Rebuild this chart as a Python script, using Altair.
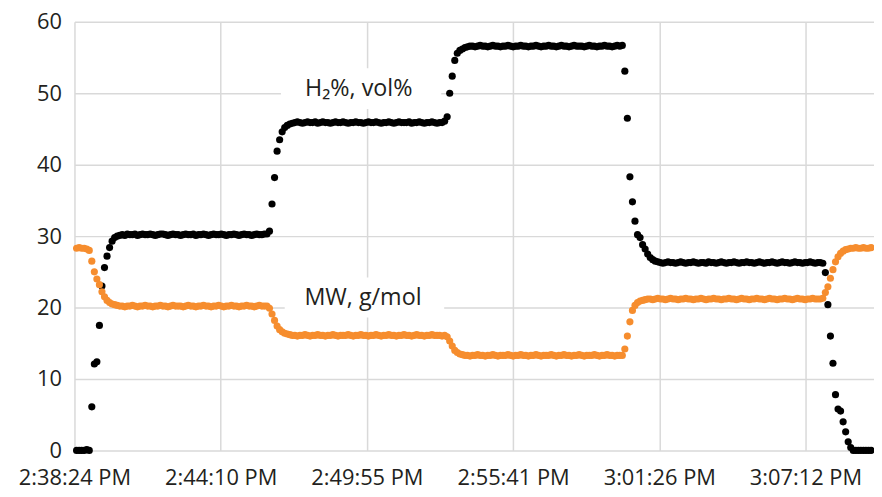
import altair as alt
import pandas as pd

# sampling grid: seconds after 2:38:24 PM
T0 = 5
STEP = 6

h2_vol = [
    0, 0, 0, 0, 0.1, 0, 6.1, 12.1, 12.4, 17.5,
    23.0, 25.6, 27.2, 28.4, 29.3, 29.8, 30.0, 30.1, 30.2, 30.1,
    30.3, 30.2, 30.2, 30.3, 30.1, 30.2, 30.3, 30.2, 30.2, 30.3,
    30.2, 30.1, 30.2, 30.3, 30.3, 30.2, 30.1, 30.2, 30.3, 30.2,
    30.2, 30.1, 30.2, 30.3, 30.2, 30.2, 30.3, 30.1, 30.2, 30.2,
    30.3, 30.2, 30.1, 30.2, 30.3, 30.2, 30.2, 30.3, 30.2, 30.1,
    30.2, 30.2, 30.3, 30.2, 30.1, 30.2, 30.3, 30.2, 30.2, 30.1,
    30.2, 30.3, 30.2, 30.2, 30.3, 30.3, 30.7, 34.5, 38.2, 41.9,
    43.5, 44.6, 45.2, 45.5, 45.7, 45.8, 45.9, 46.0, 45.9, 45.8,
    45.9, 46.0, 45.9, 45.9, 46.0, 45.8, 45.9, 46.0, 45.9, 45.9,
    45.8, 45.9, 46.0, 45.9, 45.9, 46.0, 45.9, 45.8, 45.9, 45.9,
    46.0, 45.9, 45.9, 45.8, 45.9, 46.0, 45.9, 45.9, 46.0, 45.9,
    45.8, 45.9, 45.9, 46.0, 45.9, 45.8, 45.9, 46.0, 45.9, 45.9,
    45.9, 46.0, 45.8, 45.9, 45.9, 46.0, 45.9, 45.8, 45.9, 45.9,
    46.0, 45.9, 45.8, 45.9, 45.9, 46.1, 46.7, 50.0, 52.4, 54.6,
    55.6, 56.0, 56.2, 56.4, 56.5, 56.6, 56.6, 56.5, 56.6, 56.7,
    56.6, 56.6, 56.5, 56.6, 56.7, 56.6, 56.6, 56.5, 56.6, 56.6,
    56.7, 56.6, 56.5, 56.6, 56.6, 56.7, 56.6, 56.6, 56.5, 56.6,
    56.6, 56.7, 56.6, 56.5, 56.6, 56.6, 56.7, 56.6, 56.6, 56.5,
    56.6, 56.7, 56.6, 56.6, 56.5, 56.6, 56.7, 56.6, 56.6, 56.6,
    56.5, 56.6, 56.7, 56.6, 56.6, 56.5, 56.6, 56.6, 56.7, 56.6,
    56.6, 56.5, 56.6, 56.7, 56.6, 56.7, 53.1, 46.5, 38.3, 34.8,
    32.1, 30.2, 29.8, 28.8, 28.2, 27.5, 27.0, 26.7, 26.5, 26.4,
    26.3, 26.2, 26.3, 26.4, 26.3, 26.3, 26.2, 26.3, 26.4, 26.3,
    26.2, 26.3, 26.3, 26.4, 26.3, 26.2, 26.3, 26.3, 26.2, 26.4,
    26.3, 26.3, 26.2, 26.3, 26.4, 26.3, 26.2, 26.3, 26.3, 26.4,
    26.3, 26.2, 26.3, 26.3, 26.4, 26.3, 26.3, 26.2, 26.3, 26.4,
    26.3, 26.2, 26.3, 26.3, 26.4, 26.3, 26.2, 26.3, 26.4, 26.3,
    26.3, 26.2, 26.3, 26.4, 26.3, 26.3, 26.2, 26.3, 26.3, 26.4,
    26.3, 26.2, 26.3, 26.3, 26.2, 24.9, 20.4, 16.0, 12.2, 7.8,
    5.8, 5.5, 4.0, 2.6, 1.2, 0.4, 0, 0, 0, 0,
    0, 0, 0, 0,
]

mw_gmol = [
    28.3, 28.4, 28.3, 28.3, 28.2, 28.0, 26.5, 25.0, 24.0, 23.2,
    22.2, 21.5, 21.0, 20.7, 20.5, 20.4, 20.3, 20.2, 20.2, 20.1,
    20.2, 20.2, 20.3, 20.2, 20.1, 20.2, 20.2, 20.3, 20.2, 20.2,
    20.1, 20.2, 20.2, 20.3, 20.2, 20.2, 20.1, 20.2, 20.3, 20.2,
    20.2, 20.2, 20.1, 20.2, 20.3, 20.2, 20.2, 20.1, 20.2, 20.2,
    20.3, 20.2, 20.2, 20.1, 20.2, 20.2, 20.3, 20.2, 20.1, 20.2,
    20.2, 20.3, 20.2, 20.2, 20.1, 20.2, 20.2, 20.3, 20.2, 20.2,
    20.1, 20.2, 20.3, 20.2, 20.2, 20.2, 19.9, 19.1, 18.2, 17.4,
    16.9, 16.6, 16.4, 16.3, 16.2, 16.1, 16.1, 16.0, 16.1, 16.1,
    16.2, 16.1, 16.0, 16.1, 16.1, 16.2, 16.1, 16.1, 16.0, 16.1,
    16.1, 16.2, 16.1, 16.0, 16.1, 16.1, 16.1, 16.2, 16.1, 16.0,
    16.1, 16.1, 16.2, 16.1, 16.1, 16.0, 16.1, 16.1, 16.2, 16.1,
    16.0, 16.1, 16.1, 16.2, 16.1, 16.1, 16.0, 16.1, 16.1, 16.2,
    16.1, 16.1, 16.0, 16.1, 16.2, 16.1, 16.1, 16.0, 16.1, 16.1,
    16.2, 16.1, 16.1, 16.1, 16.0, 16.1, 15.9, 15.3, 14.6, 14.0,
    13.7, 13.5, 13.4, 13.3, 13.3, 13.2, 13.3, 13.3, 13.4, 13.3,
    13.3, 13.2, 13.3, 13.3, 13.4, 13.3, 13.2, 13.3, 13.3, 13.3,
    13.4, 13.3, 13.2, 13.3, 13.3, 13.4, 13.3, 13.3, 13.2, 13.3,
    13.3, 13.4, 13.3, 13.2, 13.3, 13.3, 13.3, 13.4, 13.3, 13.2,
    13.3, 13.3, 13.4, 13.3, 13.3, 13.2, 13.3, 13.3, 13.4, 13.3,
    13.2, 13.3, 13.3, 13.3, 13.4, 13.3, 13.2, 13.3, 13.3, 13.4,
    13.3, 13.3, 13.2, 13.3, 13.3, 13.3, 14.2, 16.0, 18.0, 19.6,
    20.3, 20.7, 20.9, 21.0, 21.1, 21.2, 21.2, 21.1, 21.2, 21.3,
    21.2, 21.2, 21.1, 21.2, 21.3, 21.2, 21.2, 21.1, 21.2, 21.2,
    21.3, 21.2, 21.2, 21.1, 21.2, 21.2, 21.3, 21.2, 21.1, 21.2,
    21.2, 21.3, 21.2, 21.2, 21.1, 21.2, 21.2, 21.3, 21.2, 21.2,
    21.1, 21.2, 21.3, 21.2, 21.2, 21.1, 21.2, 21.2, 21.3, 21.2,
    21.2, 21.1, 21.2, 21.3, 21.2, 21.2, 21.1, 21.2, 21.2, 21.3,
    21.2, 21.2, 21.1, 21.2, 21.3, 21.2, 21.2, 21.1, 21.2, 21.2,
    21.3, 21.2, 21.2, 21.2, 21.3, 22.1, 22.9, 24.1, 25.3, 26.4,
    27.1, 27.6, 27.9, 28.1, 28.2, 28.3, 28.3, 28.4, 28.3, 28.3,
    28.4, 28.3, 28.3, 28.4,
]

tick_labels = ["2:38:24 PM", "2:44:10 PM", "2:49:55 PM",
               "2:55:41 PM", "3:01:26 PM", "3:07:12 PM"]
tick_step = 345.6  # seconds between major ticks
y_ticks = [0, 10, 20, 30, 40, 50, 60]

ann_text = ["H\u2082%, vol%", "MW, g/mol"]
ann_t = [672, 682]
ann_v = [49.6, 20.4]
box_t1 = [488, 497]
box_t2 = [867, 874]
box_v1 = [47.8, 18.6]
box_v2 = [53.5, 24.2]

FONT = "Open Sans"
TXT = "#231f20"

df_h2 = pd.DataFrame({"t": [T0 + STEP * i for i in range(len(h2_vol))], "v": h2_vol})
df_mw = pd.DataFrame({"t": [T0 + STEP * i for i in range(len(mw_gmol))], "v": mw_gmol})
df_ann = pd.DataFrame({"label": ann_text, "t": ann_t, "v": ann_v})
df_box = pd.DataFrame({"t1": box_t1, "t2": box_t2, "v1": box_v1, "v2": box_v2})

label_expr = "[" + ",".join("'%s'" % s for s in tick_labels) + "][round(datum.value/%s)]" % tick_step

xscale = alt.Scale(domain=[0, 1890], nice=False, zero=False)
yscale = alt.Scale(domain=[0, 60], nice=False)

xaxis = alt.Axis(values=[i * tick_step for i in range(len(tick_labels))],
                 labelExpr=label_expr, title=None, labelPadding=17,
                 labelAlign="center", labelFlush=False, labelBaseline="top")
yaxis = alt.Axis(values=y_ticks, title=None, labelPadding=13)

x = alt.X("t:Q", scale=xscale, axis=xaxis)
y = alt.Y("v:Q", scale=yscale, axis=yaxis)

boxes = alt.Chart(df_box).mark_rect(color="white").encode(
    x=alt.X("t1:Q", scale=xscale, axis=xaxis), x2="t2:Q",
    y=alt.Y("v1:Q", scale=yscale, axis=yaxis), y2="v2:Q")

black = alt.Chart(df_h2).mark_circle(size=52, opacity=1, color="#000000").encode(x=x, y=y)
orange = alt.Chart(df_mw).mark_circle(size=52, opacity=1, color="#f68d2e").encode(x=x, y=y)

texts = alt.Chart(df_ann).mark_text(font=FONT, fontSize=23.5, fontWeight=500, color=TXT,
                                    align="center", baseline="alphabetic").encode(
    x=x, y=y, text="label:N")

chart = alt.layer(boxes, black, orange, texts).properties(
    width=806, height=432,
    autosize=alt.AutoSizeParams(type="none"),
    padding={"left": 67, "top": 12, "right": 0, "bottom": 44},
).configure_axis(
    grid=True, gridColor="#d9d9d9", gridWidth=1.5, domain=False,
    ticks=False, tickSize=0, labelFont=FONT, labelFontSize=22,
    labelFontWeight=500, labelColor=TXT,
).configure_view(stroke=None)

chart.save("out.html", embed_options={"renderer": "svg", "actions": False})
